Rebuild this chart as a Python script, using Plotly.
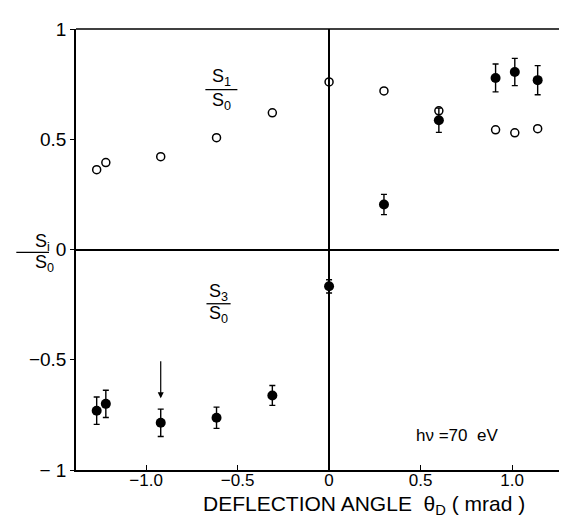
import plotly.graph_objects as go

# ---- data ----
s1_x = [-1.27, -1.22, -0.92, -0.615, -0.31, 0.0, 0.30, 0.60, 0.91, 1.015, 1.14]
s1_y = [0.362, 0.394, 0.421, 0.507, 0.62, 0.76, 0.719, 0.629, 0.543, 0.529, 0.548]

s3_x = [-1.27, -1.22, -0.92, -0.615, -0.31, 0.0, 0.30, 0.60, 0.91, 1.015, 1.14]
s3_y = [-0.731, -0.70, -0.786, -0.763, -0.662, -0.167, 0.204, 0.586, 0.778, 0.805, 0.768]
s3_err = [0.062, 0.062, 0.062, 0.048, 0.045, 0.03, 0.046, 0.055, 0.063, 0.062, 0.066]

x_tickvals = [-1.0, -0.5, 0.0, 0.5, 1.0]
x_ticktext = ["\u22121.0", "\u22120.5", "0", "0.5", "1.0"]
y_tickvals = [1, 0.5, 0, -0.5, -1]
y_ticktext = ["1", "0.5", "0", "\u22120.5", "\u2212 1"]

arrow_x = -0.92
arrow_from_y = -0.50
arrow_to_y = -0.675

FONT = "Liberation Sans"

fig = go.Figure()

fig.add_trace(go.Scatter(
    x=s3_x, y=s3_y, mode="markers",
    marker=dict(symbol="circle", size=10, color="black"),
    error_y=dict(type="data", array=s3_err, visible=True, color="black",
                 thickness=1.4, width=3),
    showlegend=False, hoverinfo="skip"))

fig.add_trace(go.Scatter(
    x=s1_x, y=s1_y, mode="markers",
    marker=dict(symbol="circle-open", size=8, color="black", line=dict(width=1.5, color="black")),
    showlegend=False, hoverinfo="skip"))

annotations = [
    dict(x=-0.59, y=0.778, xref="x", yref="y", text="S<sub>1</sub>", showarrow=False,
         font=dict(family=FONT, size=18, color="black")),
    dict(x=-0.59, y=0.672, xref="x", yref="y", text="S<sub>0</sub>", showarrow=False,
         font=dict(family=FONT, size=18, color="black")),
    dict(x=-0.605, y=-0.195, xref="x", yref="y", text="S<sub>3</sub>", showarrow=False,
         font=dict(family=FONT, size=18, color="black")),
    dict(x=-0.605, y=-0.297, xref="x", yref="y", text="S<sub>0</sub>", showarrow=False,
         font=dict(family=FONT, size=18, color="black")),
    dict(x=-0.087, y=0.030, xref="paper", yref="y", text="S<sub>i</sub>", showarrow=False,
         font=dict(family=FONT, size=18, color="black")),
    dict(x=-0.087, y=-0.062, xref="paper", yref="y", text="S<sub>0</sub>", showarrow=False,
         font=dict(family=FONT, size=18, color="black")),
    dict(x=0.697, y=-0.842, xref="x", yref="y", text="h\u03bd =70  eV", showarrow=False,
         font=dict(family=FONT, size=17, color="black")),
    dict(x=arrow_x, y=arrow_to_y, ax=arrow_x, ay=arrow_from_y, xref="x", yref="y",
         axref="x", ayref="y", text="", showarrow=True, arrowhead=2, arrowsize=1,
         arrowwidth=1.2, arrowcolor="black"),
    # x-axis title
    dict(x=0.578, y=-0.079, xref="paper", yref="paper", xanchor="center", yanchor="middle",
         text="DEFLECTION ANGLE  \u03b8<sub>D</sub> ( mrad )", showarrow=False,
         font=dict(family=FONT, size=21, color="black")),
]

shapes = [
    dict(type="line", xref="paper", yref="paper", x0=0, x1=1, y0=1, y1=1,
         line=dict(color="black", width=1.5)),
    dict(type="line", xref="x", yref="y", x0=-0.676, x1=-0.501, y0=0.725, y1=0.725,
         line=dict(color="black", width=1.3)),
    dict(type="line", xref="x", yref="y", x0=-0.67, x1=-0.538, y0=-0.246, y1=-0.246,
         line=dict(color="black", width=1.3)),
    dict(type="line", xref="paper", yref="y", x0=-0.1196, x1=-0.0541, y0=-0.013, y1=-0.013,
         line=dict(color="black", width=1.3)),
]

fig.update_layout(
    width=567, height=518,
    margin=dict(l=68, r=0, t=21, b=56),
    paper_bgcolor="white", plot_bgcolor="white",
    font=dict(family=FONT, size=17, color="black"),
    annotations=annotations, shapes=shapes,
    xaxis=dict(range=[-1.383, 1.344], tickvals=x_tickvals, ticktext=x_ticktext,
               showgrid=False, zeroline=True, zerolinecolor="black", zerolinewidth=1.5,
               showline=True, linecolor="black", linewidth=1.5,
               ticks="inside", ticklen=5, tickwidth=1.2, tickcolor="black",
               ticklabelstandoff=-6,
               tickfont=dict(family=FONT, size=17)),
    yaxis=dict(range=[-1, 1], tickvals=y_tickvals, ticktext=y_ticktext,
               showgrid=False, zeroline=True, zerolinecolor="black", zerolinewidth=1.5,
               showline=True, linecolor="black", linewidth=1.5,
               ticks="outside", ticklen=4, tickwidth=1.2, tickcolor="black",
               tickfont=dict(family=FONT, size=19)),
)

fig.write_html("out.html")
